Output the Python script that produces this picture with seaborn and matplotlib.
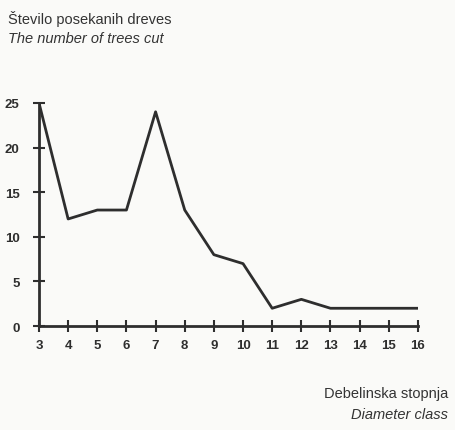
import seaborn as sns
import matplotlib.pyplot as plt
import pandas as pd

# diameter classes and number of trees cut
diameter_class = [3, 4, 5, 6, 7, 8, 9, 10, 11, 12, 13, 14, 15, 16]
trees_cut = [25, 12, 13, 13, 24, 13, 8, 7, 2, 3, 2, 2, 2, 2]
y_ticks = [0, 5, 10, 15, 20, 25]

data = pd.DataFrame({'Diameter': diameter_class, 'Trees': trees_cut})

sns.set_style('white')
plt.rcParams['font.family'] = ['Liberation Sans', 'DejaVu Sans']

fig = plt.figure(figsize=(4.56, 4.31), dpi=100, facecolor='#fafaf8')
ax = fig.add_axes([0.0855, 0.241, 0.831, 0.518])
ax.set_facecolor('#fafaf8')

sns.lineplot(data=data, x='Diameter', y='Trees', color='#2e2e2e', linewidth=2.0, ax=ax)

ax.set_xlim(3, 16)
ax.set_ylim(0, 25)
ax.set_xticks(diameter_class)
ax.set_yticks(y_ticks)
ax.set_xlabel('')
ax.set_ylabel('')
sns.despine(ax=ax)
for s in ['left', 'bottom']:
    ax.spines[s].set_color('#2e2e2e')
    ax.spines[s].set_linewidth(2.0)
    ax.spines[s].set_clip_on(False)
ax.tick_params(axis='both', bottom=True, left=True, direction='inout', length=8, width=1.5,
               color='#2e2e2e', labelsize=9.5, labelcolor='#2e2e2e')
for lab in ax.get_xticklabels() + ax.get_yticklabels():
    lab.set_fontweight('bold')
ax.tick_params(axis='x', pad=5)
ax.tick_params(axis='y', pad=10)

# titles
fig.text(0.018, 0.957, 'Število posekanih dreves', fontsize=10.5, color='#333333', va='center')
fig.text(0.018, 0.910, 'The number of trees cut', fontsize=10.5, color='#333333',
         style='italic', va='center')
fig.text(0.983, 0.086, 'Debelinska stopnja', fontsize=10.5, color='#333333', ha='right', va='center')
fig.text(0.983, 0.037, 'Diameter class', fontsize=10.5, color='#333333', ha='right',
         style='italic', va='center')

fig.savefig('out.png', dpi=100, facecolor=fig.get_facecolor())
